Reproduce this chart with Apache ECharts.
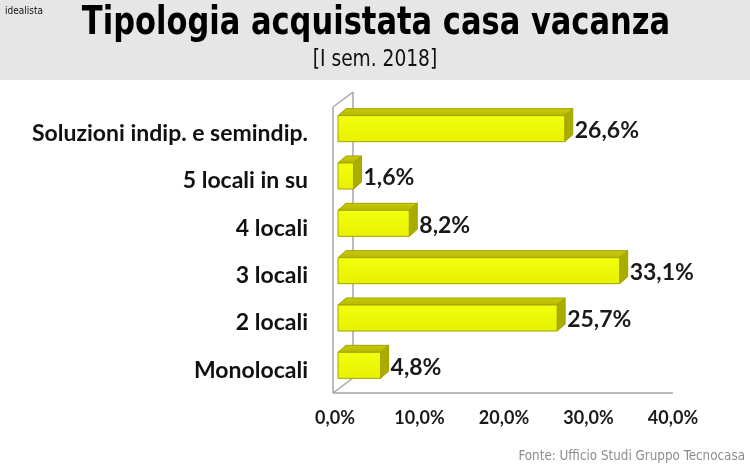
<!DOCTYPE html>
<html><head><meta charset="utf-8">
<script src="https://cdn.jsdelivr.net/npm/echarts@6/dist/echarts.min.js"></script>
<style>html,body{margin:0;padding:0;background:#fff}#c{width:750px;height:467px}</style>
</head><body><div id="c"></div>
<script>
const categories = ['Soluzioni indip. e semindip.', '5 locali in su', '4 locali', '3 locali', '2 locali', 'Monolocali'];
const values = [26.6, 1.6, 8.2, 33.1, 25.7, 4.8];
const valueLabels = ['26,6%', '1,6%', '8,2%', '33,1%', '25,7%', '4,8%'];
const tickLabels = ['0,0%', '10,0%', '20,0%', '30,0%', '40,0%'];

const chart = echarts.init(document.getElementById('c'));
const DX = 8, DY = 7;

function renderBar(params, api) {
  const v = api.value(0), ci = api.value(1);
  const p0 = api.coord([0, ci]);
  const p1 = api.coord([v, ci]);
  const band = api.size([0, 1])[1];
  const h = band * 0.55;
  const x0 = p0[0] - 2, x1 = p1[0], yt = p0[1] - h / 2 + 1, yb = yt + h;
  const stroke = '#a3a300';
  return {
    type: 'group',
    children: [
      { type: 'polygon', shape: { points: [[x0, yt], [x0 + DX, yt - DY], [x1 + DX, yt - DY], [x1, yt]] },
        style: { fill: new echarts.graphic.LinearGradient(0, 0, 0, 1, [{offset:0,color:'#c9cc00'},{offset:1,color:'#b4b800'}]), stroke: stroke, lineWidth: 1 } },
      { type: 'polygon', shape: { points: [[x1, yt], [x1 + DX, yt - DY], [x1 + DX, yb - DY], [x1, yb]] },
        style: { fill: '#a9ad00', stroke: stroke, lineWidth: 1 } },
      { type: 'rect', shape: { x: x0, y: yt, width: x1 - x0, height: h },
        style: { fill: new echarts.graphic.LinearGradient(0, 0, 0, 1, [{offset:0,color:'#f4ff10'},{offset:1,color:'#e6f000'}]), stroke: stroke, lineWidth: 1 } },
      { type: 'text', style: { x: x1 + DX + 2, y: yt + h / 2 + 2, text: valueLabels[params.dataIndex], fill: '#1a1a1a',
        font: 'bold 23px Lato', textVerticalAlign: 'middle', textAlign: 'left' } }
    ]
  };
}

function renderWall(params, api) {
  if (params.dataIndex !== 0) return null;
  const cs = params.coordSys;
  const x = cs.x, y = cs.y, w = cs.width, h = cs.height;
  const st = { stroke: '#a6a6a6', lineWidth: 1.5 };
  const fx = x - 7, bx = x + 13;
  return {
    type: 'group',
    children: [
      { type: 'line', shape: { x1: fx, y1: y + 3, x2: fx, y2: y + h + 5 }, style: st },
      { type: 'line', shape: { x1: bx, y1: y - 12, x2: bx, y2: y + h - 10 }, style: st },
      { type: 'line', shape: { x1: fx, y1: y + 3, x2: bx, y2: y - 12 }, style: st },
      { type: 'line', shape: { x1: fx, y1: y + h + 5, x2: bx, y2: y + h - 10 }, style: st },
      { type: 'line', shape: { x1: fx, y1: y + h + 5, x2: x + w - 5, y2: y + h + 5 }, style: st }
    ]
  };
}

chart.setOption({
  backgroundColor: '#ffffff',
  animation: false,
  graphic: [
    { type: 'rect', left: 0, top: 0, shape: { width: 750, height: 80 }, style: { fill: '#e6e6e6' }, z: -10 },
    { type: 'text', left: 5, top: 6, style: { text: 'idealista', font: '10px "DejaVu Sans Condensed"', fill: '#111' } },
    { type: 'text', x: 376, y: 24, scaleX: 0.87, style: { text: 'Tipologia acquistata casa vacanza', font: 'bold 39px "DejaVu Sans Condensed"', fill: '#000', textAlign: 'center', textVerticalAlign: 'middle' } },
    { type: 'text', x: 375, y: 60, scaleX: 0.9, style: { text: '[I sem. 2018]', font: '23px "DejaVu Sans Condensed"', fill: '#111', textAlign: 'center', textVerticalAlign: 'middle' } },
    { type: 'text', x: 745, y: 456, scaleX: 0.95, style: { text: 'Fonte: Ufficio Studi Gruppo Tecnocasa', font: '14px "DejaVu Sans Condensed"', fill: '#8c8c8c', textAlign: 'right', textVerticalAlign: 'middle' } }
  ],
  grid: { left: 340, right: 72, top: 104, bottom: 79 },
  xAxis: {
    type: 'value', min: 0, max: 40, interval: 10,
    axisLine: { show: false }, axisTick: { show: false }, splitLine: { show: false },
    axisLabel: { margin: 21, padding: [0, 10, 0, 0], fontFamily: 'Lato', fontWeight: 'bold', fontSize: 18, color: '#1a1a1a',
      formatter: function (v) { return tickLabels[Math.round(v / 10)]; } }
  },
  yAxis: {
    type: 'category', data: categories, inverse: true,
    axisLine: { show: false }, axisTick: { show: false },
    axisLabel: { margin: 32, verticalAlign: 'top', lineHeight: 12, fontFamily: 'Lato', fontWeight: 'bold', fontSize: 23, color: '#111' }
  },
  series: [
    { type: 'custom', z: 1, renderItem: renderWall, data: values.map((v, i) => [v, i]), encode: { x: 0, y: 1 } },
    { type: 'custom', z: 2, renderItem: renderBar, data: values.map((v, i) => [v, i]), encode: { x: 0, y: 1 } }
  ]
});
</script></body></html>
